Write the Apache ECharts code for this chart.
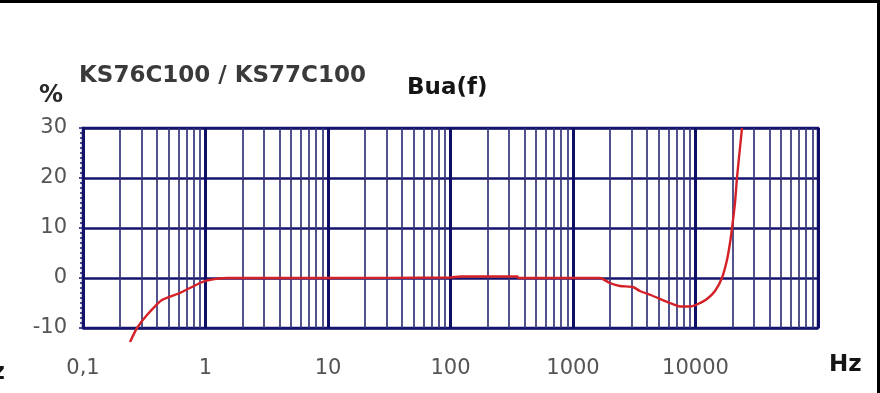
<!DOCTYPE html>
<html>
<head>
<meta charset="utf-8">
<script src="https://cdn.jsdelivr.net/npm/echarts@6/dist/echarts.min.js"></script>
<style>
html,body{margin:0;padding:0;background:#fff;}
#chart{width:880px;height:393px;}
</style>
</head>
<body>
<div id="chart"></div>
<script>
// ---- data ----
const freqHz = [0.242, 0.276, 0.333, 0.441, 0.619, 0.90, 1.07, 1.5, 10, 100, 120, 350, 360, 1000, 1660, 2000, 2420, 3090, 3520, 4500, 6190, 7470, 9020, 10480, 12400, 14430, 16440, 18070, 19130, 19880, 21000, 21800, 23070, 23970];
const buaPct = [-12.8, -10, -7.4, -4.4, -3.0, -1.0, -0.4, 0, 0, 0.1, 0.3, 0.3, 0, 0, 0, -1.0, -1.6, -1.8, -2.6, -3.6, -5.0, -5.7, -5.7, -5.2, -4.2, -2.6, 0, 3.6, 7, 10, 15, 20, 26, 30];
const decadeTicks = [0.1, 1, 10, 100, 1000, 10000, 100000];
const xTickLabels = ['0,1', '1', '10', '100', '1000', '10000', ''];
const minorMultipliers = [2, 3, 4, 5, 6, 7, 8, 9];
const yTicks = [-10, 0, 10, 20, 30];
const titleText = 'KS76C100 / KS77C100';
const subTitleText = 'Bua(f)';
const yUnit = '%';
const xUnit = 'Hz';

const navy = '#14146c';
const minorLines = [];
decadeTicks.slice(0, -1).forEach(d => minorMultipliers.forEach(m => minorLines.push({ xAxis: d * m })));

const chart = echarts.init(document.getElementById('chart'), null, { renderer: 'canvas' });
const option = {
  animation: false,
  backgroundColor: '#ffffff',
  grid: { left: 83, top: 128, right: 62, bottom: 65, show: true, borderColor: navy, borderWidth: 2.5, backgroundColor: 'transparent' },
  xAxis: {
    type: 'log', logBase: 10, min: decadeTicks[0], max: decadeTicks[decadeTicks.length - 1],
    axisLine: { show: false }, axisTick: { show: false },
    splitLine: { show: true, lineStyle: { color: '#0e0e66', width: 3 } },
    axisLabel: {
      margin: 30, color: '#555', fontFamily: 'DejaVu Sans', fontSize: 21,
      showMinLabel: true, showMaxLabel: true,
      formatter: v => { const i = Math.round(Math.log10(v)) + 1; return xTickLabels[i] || ''; }
    }
  },
  yAxis: {
    type: 'value', min: yTicks[0], max: yTicks[yTicks.length - 1], interval: 10,
    axisLine: { show: true, lineStyle: { color: navy, width: 2.5 } },
    axisTick: { show: true, length: 4, lineStyle: { color: navy, width: 1.5 } },
    minorTick: { show: true, splitNumber: 10, length: 3, lineStyle: { color: navy, width: 1.5 } },
    splitLine: { show: true, lineStyle: { color: navy, width: 2.5 } },
    axisLabel: { margin: 16, color: '#555', fontFamily: 'DejaVu Sans', fontSize: 21 }
  },
  series: [
    {
      type: 'line', data: [], z: 1, silent: true,
      markLine: {
        silent: true, symbol: ['none', 'none'], animation: false,
        label: { show: false },
        lineStyle: { color: '#34347a', width: 1.7, type: 'solid' },
        emphasis: { disabled: true },
        data: minorLines
      }
    },
    {
      type: 'line', z: 5, clip: false, showSymbol: false, smooth: 0.2,
      lineStyle: { color: '#d42128', width: 2.4 },
      data: freqHz.map((f, i) => [f, buaPct[i]])
    }
  ],
  graphic: [
    { type: 'text', left: 79, top: 65, style: { text: titleText, font: 'bold 23px "DejaVu Sans"', fill: '#3a3a3a' } },
    { type: 'text', left: 407, top: 77, style: { text: subTitleText, font: 'bold 23px "DejaVu Sans"', fill: '#151515' } },
    { type: 'text', left: 39, top: 84, style: { text: yUnit, font: 'bold 24px "DejaVu Sans"', fill: '#2a2a2a' } },
    { type: 'text', left: 829, top: 354, style: { text: xUnit, font: 'bold 23px "DejaVu Sans"', fill: '#151515' } },
    { type: 'text', x: 5, y: 362, style: { text: xUnit, font: 'bold 23px "DejaVu Sans"', fill: '#151515', align: 'right' } },
    { type: 'rect', shape: { x: 0, y: 0, width: 880, height: 3 }, style: { fill: '#000' } },
    { type: 'rect', shape: { x: 877, y: 0, width: 3, height: 393 }, style: { fill: '#000' } }
  ]
};
chart.setOption(option);
</script>
</body>
</html>
